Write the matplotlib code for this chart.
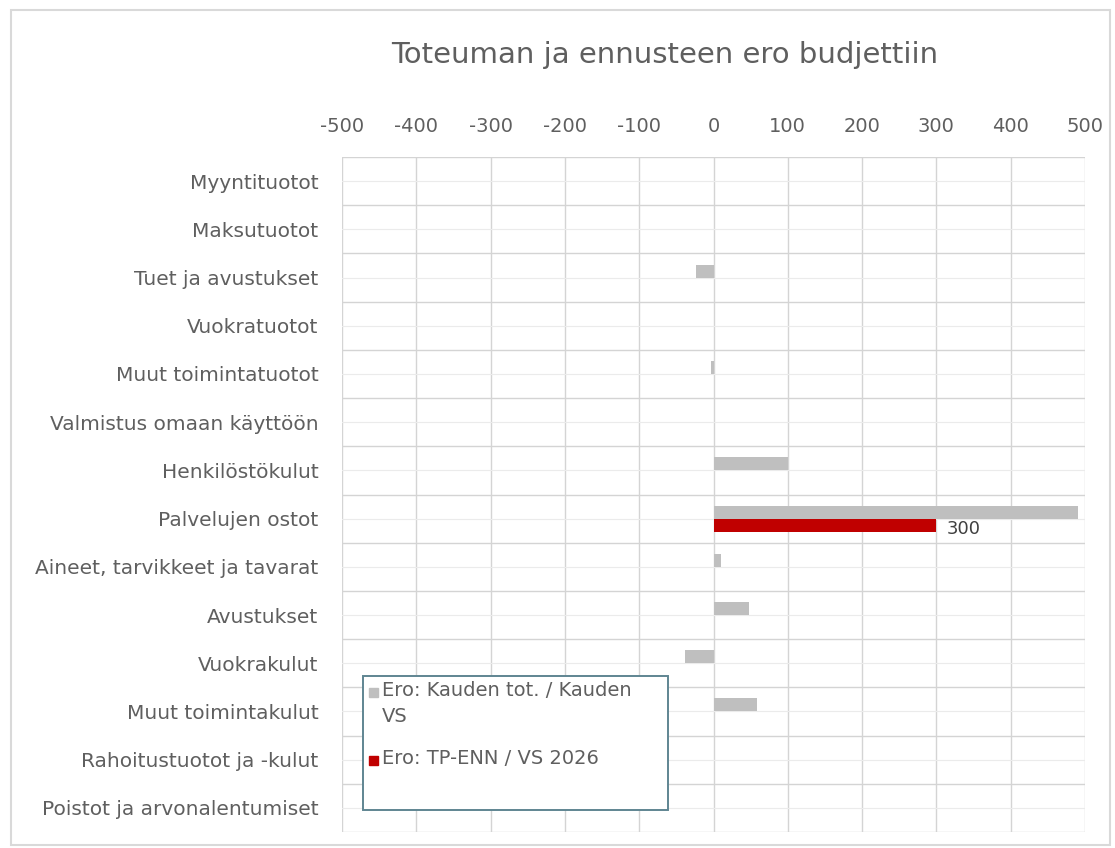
import matplotlib
matplotlib.use("Agg")
import matplotlib.pyplot as plt
from matplotlib.patches import Rectangle
import numpy as np

plt.rcParams['font.family'] = ['DejaVu Sans']
plt.rcParams['axes.unicode_minus'] = False

categories = ["Myyntituotot", "Maksutuotot", "Tuet ja avustukset", "Vuokratuotot",
              "Muut toimintatuotot", "Valmistus omaan käyttöön", "Henkilöstökulut",
              "Palvelujen ostot", "Aineet, tarvikkeet ja tavarat", "Avustukset",
              "Vuokrakulut", "Muut toimintakulut", "Rahoitustuotot ja -kulut",
              "Poistot ja arvonalentumiset"]
ero_kausi = [0, 0, -23, 0, -3, 0, 100, 490, 10, 48, -38, 58, 0, 0]
ero_enn = [0, 0, 0, 0, 0, 0, 0, 300, 0, 0, 0, 0, 0, 0]
series_names = ["Ero: Kauden tot. / Kauden\nVS", "Ero: TP-ENN / VS 2026"]
title = "Toteuman ja ennusteen ero budjettiin"
xticks = [-500, -400, -300, -200, -100, 0, 100, 200, 300, 400, 500]

W, H = 1115, 848
fig = plt.figure(figsize=(W/100, H/100), dpi=100)
fig.patch.set_facecolor('white')

def fx(px):
    return px / W

def fy(py):
    return 1 - py / H

# outer chart border
fig.add_artist(Rectangle((fx(11), fy(845)), fx(1110) - fx(11), fy(10) - fy(845),
                         transform=fig.transFigure, fill=False,
                         edgecolor='#d9d9d9', linewidth=1.5))

ax = fig.add_axes([fx(342), fy(832), fx(1085) - fx(342), fy(157) - fy(832)])
y = np.arange(len(categories))
h = 0.27
grey = '#bfbfbf'
red = '#c00000'
txt = '#5f5f5f'
ax.barh(y - h/2, ero_kausi, height=h, color=grey, zorder=3)
ax.barh(y + h/2, ero_enn, height=h, color=red, zorder=3)

for i, v in enumerate(ero_enn):
    if v != 0:
        ax.text(v + 14, y[i] + h/2 + 0.08, f"{v:g}", va='center', ha='left',
                fontsize=13, color='#404040', zorder=4)

ax.set_xlim(-500, 500)
ax.set_ylim(len(categories) - 0.5, -0.5)
ax.set_xticks(xticks)
ax.set_xticklabels([str(t) for t in xticks])
ax.xaxis.tick_top()
ax.set_yticks(y)
ax.set_yticklabels(categories)
ax.set_yticks(np.arange(-0.5, len(categories)), minor=True)
ax.tick_params(axis='both', length=0, colors=txt)
ax.tick_params(axis='x', labelsize=14, pad=15)
ax.tick_params(axis='y', labelsize=14.5, pad=17)
ax.tick_params(which='minor', length=0)

ax.grid(True, axis='x', which='major', color='#d4d4d4', linewidth=1.0, zorder=0)
ax.grid(True, axis='y', which='minor', color='#d4d4d4', linewidth=1.0, zorder=0)
ax.grid(True, axis='y', which='major', color='#ebebeb', linewidth=0.8, zorder=0)
for s in ax.spines.values():
    s.set_visible(False)

fig.text(fx(665), fy(63), title, ha='center', va='baseline', fontsize=21, color=txt)

# legend box (drawn manually in figure pixel positions)
fig.add_artist(Rectangle((fx(363), fy(810)), fx(668) - fx(363), fy(676) - fy(810),
                         transform=fig.transFigure, facecolor='white',
                         edgecolor='#5f8592', linewidth=1.4, zorder=5))
leg_colors = [grey, red]
leg_y = [692, 760]
for name, col, ly in zip(series_names, leg_colors, leg_y):
    fig.add_artist(Rectangle((fx(369), fy(ly + 5)), fx(378) - fx(369), fy(ly - 4) - fy(ly + 5),
                             transform=fig.transFigure, facecolor=col, edgecolor=col,
                             zorder=6))
    fig.text(fx(382), fy(ly - 11), name, ha='left', va='top',
             fontsize=14, color=txt, linespacing=1.5, zorder=6)

fig.savefig("out.png", dpi=100, facecolor='white')
